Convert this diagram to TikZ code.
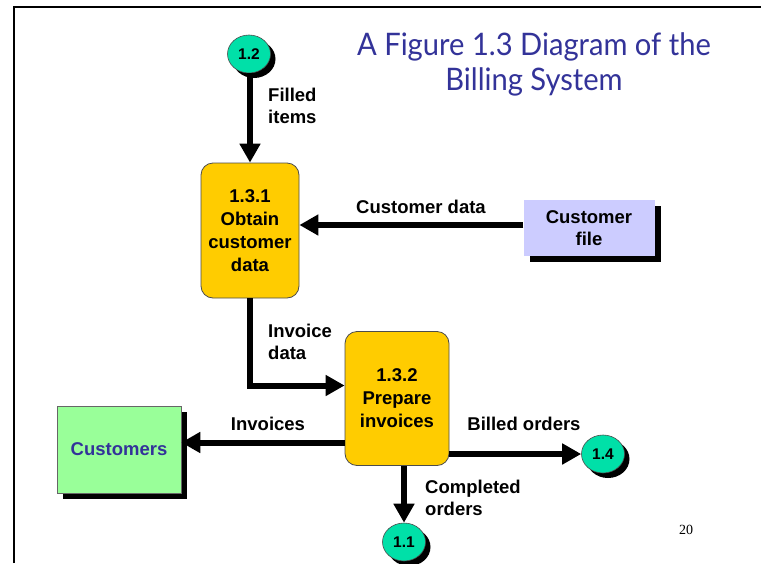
\documentclass[tikz,border=0pt]{standalone}
\usepackage{fontspec}
\setmainfont{Liberation Sans}
\newfontfamily\titlefont[FakeStretch=0.94]{Lato}
\newfontfamily\pgnumfont{Liberation Serif}
\usetikzlibrary{arrows.meta,shadows,shapes.geometric}
\definecolor{procfill}{HTML}{FFCC00}
\definecolor{termfill}{HTML}{00E0A8}
\definecolor{storefill}{HTML}{CCCCFF}
\definecolor{extfill}{HTML}{99FF99}
\definecolor{titleblue}{HTML}{333399}
\begin{document}
\begin{tikzpicture}[x=1pt,y=-1pt,
  flow/.style={line width=6pt,-{Triangle[width=20pt,length=19pt]}},
  lbl/.style={font=\fontsize{18.5}{22}\selectfont\bfseries,align=left,inner sep=0pt},
  procbox/.style={draw=black!70,line width=0.8pt,fill=procfill,rounded corners=12pt,
    align=center,inner sep=0pt,font=\fontsize{18.5}{23}\selectfont\bfseries},
  term/.style={ellipse,fill=termfill,draw=black!70,line width=0.6pt,minimum width=43pt,
    minimum height=38pt,inner sep=0pt,font=\fontsize{15.5}{17}\selectfont\bfseries,
    drop shadow={shadow xshift=5pt,shadow yshift=-5pt,fill=black,opacity=1}},
  sqshadow/.style={drop shadow={shadow xshift=6pt,shadow yshift=-6pt,fill=black,opacity=1}},
]
\useasboundingbox[fill=white] (0,0) rectangle (761,563);
% frame
\draw[line width=2pt] (14,563) coordinate (fbl) -- (14,7) coordinate (ftl) -- (761,7) coordinate (ftr);
% title
\node[text=titleblue,font=\titlefont\fontsize{31}{35}\selectfont,align=center] (title) at (534,64)
  {A Figure 1.3 Diagram of the\\Billing System};
% nodes
\node[procbox,minimum width=98pt,minimum height=135pt] (p1) at (250,230.5)
  {1.3.1\\Obtain\\customer\\data};
\node[procbox,minimum width=104pt,minimum height=134pt] (p2) at (397,398.5)
  {1.3.2\\Prepare\\invoices};
\node[sqshadow,fill=storefill,minimum width=131pt,minimum height=56pt,inner sep=0pt,
  align=center,font=\fontsize{18.5}{22}\selectfont\bfseries] (cf) at (589,228) {Customer\\file};
\node[sqshadow,fill=extfill,draw=black!60,line width=0.6pt,minimum width=124pt,minimum height=87pt,
  inner sep=0pt,text=titleblue,font=\fontsize{18.5}{22}\selectfont\bfseries] (cust) at (119,449.5) {Customers};
\node[term] (c12) at (249,54) {1.2};
\node[term] (c14) at (603,454) {1.4};
\node[term] (c11) at (404,542) {1.1};
% flows
\draw[flow] (c12.south -| p1.north) -- (p1.north);
\draw[flow] ([yshift=3pt]cf.west) -- ([yshift=3pt]cf.west -| p1.east);
\draw[flow] (p1.south) |- ([yshift=13pt]p2.west);
\draw[flow] ([yshift=-44pt]p2.west) -- ([yshift=-44pt]p2.west -| cust.east);
\draw[flow] (c14.west -| p2.east) -- (c14.west);
\draw[flow] (c11.north |- p2.south) -- (c11.north);
% labels
\node[lbl,anchor=west] (lfilled) at (268,106) {Filled\\items};
\node[lbl] (lcd) at (421,207) {Customer data};
\node[lbl,anchor=west] (linv) at (268,342) {Invoice\\data};
\node[lbl] (linvs) at (268,424) {Invoices};
\node[lbl] (lbill) at (524,424) {Billed orders};
\node[lbl,anchor=west] (lcomp) at (425,498) {Completed\\orders};
\node[font=\pgnumfont\fontsize{14}{16}\selectfont] (pg) at (686,530) {20};
\end{tikzpicture}
\end{document}
